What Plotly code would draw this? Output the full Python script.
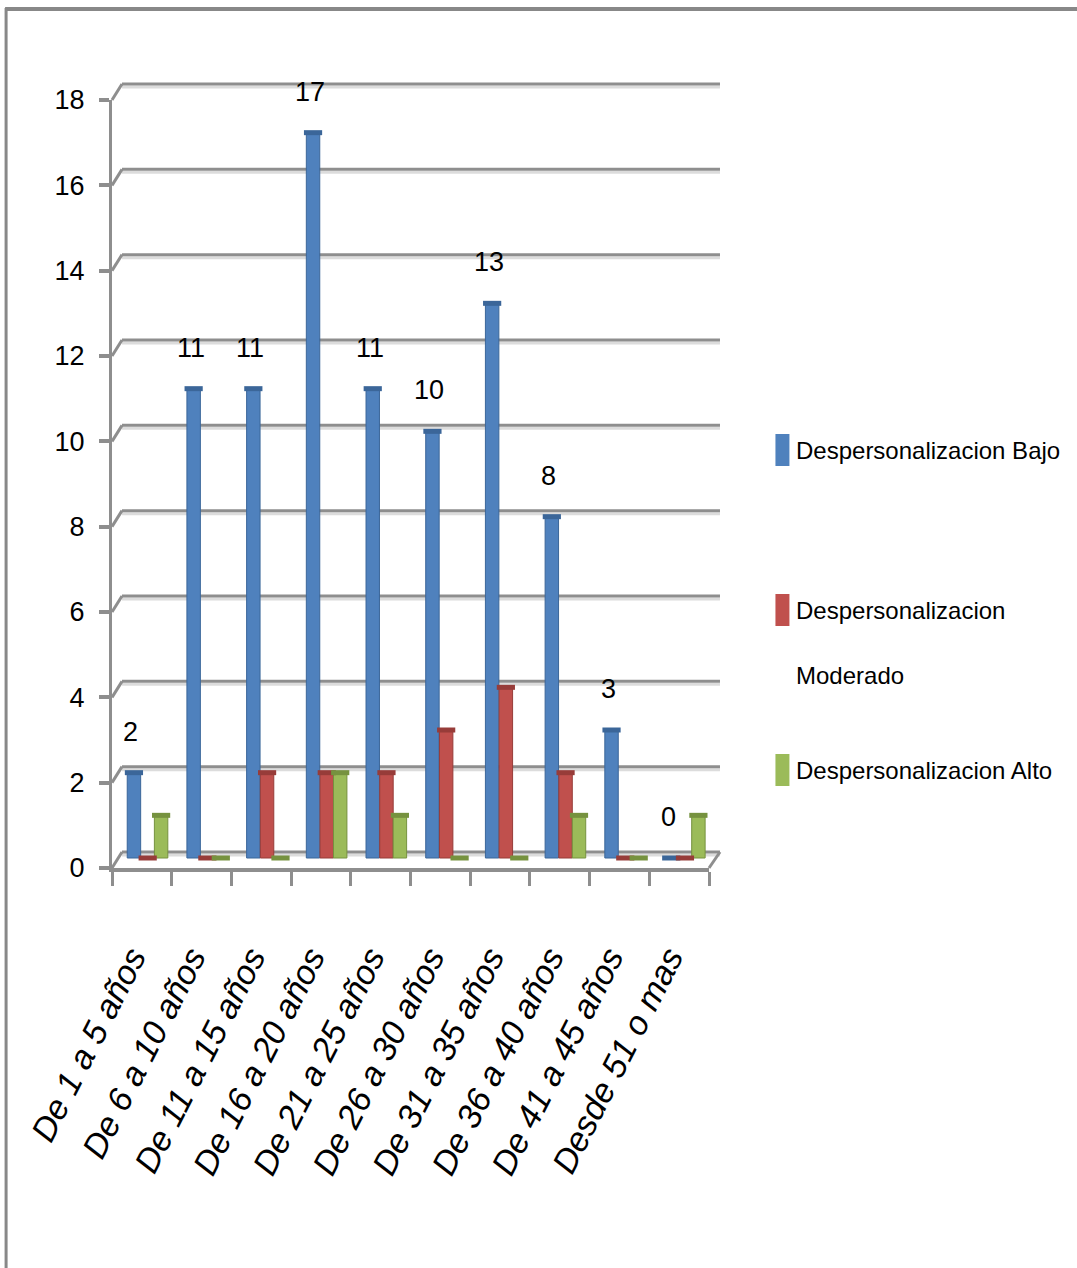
import plotly.graph_objects as go

# ---- data -------------------------------------------------------------
categories = ["De 1 a 5 años", "De 6 a 10 años", "De 11 a 15 años", "De 16 a 20 años",
              "De 21 a 25 años", "De 26 a 30 años", "De 31 a 35 años", "De 36 a 40 años",
              "De 41 a 45 años", "Desde 51 o mas"]
bajo = [2, 11, 11, 17, 11, 10, 13, 8, 3, 0]
moderado = [0, 0, 2, 2, 2, 3, 4, 2, 0, 0]
alto = [1, 0, 0, 2, 1, 0, 0, 1, 0, 1]
series_names = ["Despersonalizacion Bajo", "Despersonalizacion Moderado", "Despersonalizacion Alto"]
y_ticks = [0, 2, 4, 6, 8, 10, 12, 14, 16, 18]

# ---- styling ----------------------------------------------------------
W, H = 1077, 1268
PL, PR, PT, PB = 112, 709.5, 100, 868          # plot area in pixels
UNIT = (PB - PT) / 18.0                        # pixels per unit
DX, DY = 10, 16                                # depth offset of the back wall
LIFT = 10                                      # columns stand mid-depth, a bit above the front edge
SHIFT = LIFT / UNIT                            # same lift in data units
GRID = "#8e8e8e"
SHADOW = "#dcdcdc"
FONT = "Liberation Sans, Arial, sans-serif"

colors = ["#4F81BD", "#C0504D", "#9BBB59"]
edges = ["#3b6699", "#973c39", "#76923f"]
offsets = [-0.245, -0.015, 0.21]
bar_w = 0.225
series = [bajo, moderado, alto]


def px_x(px):
    return (px - PL) / (PR - PL)


def px_y(py):
    return (PB - py) / (PB - PT)


fig = go.Figure()
xs = list(range(len(categories)))
for vals, name, col, edge, off in zip(series, series_names, colors, edges, offsets):
    fig.add_trace(go.Bar(
        x=xs, y=vals, name=name, offset=off, width=bar_w,
        marker=dict(color=col, line=dict(color=edge, width=1)),
        showlegend=False, hoverinfo="skip",
    ))
    # elliptical top caps of the cylinders
    fig.add_trace(go.Scatter(
        x=[i + off + bar_w / 2 for i in xs], y=vals, mode="markers",
        marker=dict(symbol="line-ew", size=13, line=dict(color=edge, width=5)),
        showlegend=False, hoverinfo="skip", cliponaxis=False,
    ))

shapes = []
# back-wall gridlines with the 3D step from the axis
for v in y_ticks:
    yf = PB - v * UNIT
    yb = yf - DY
    shapes.append(dict(type="line", xref="paper", yref="paper",
                       x0=px_x(PL + DX), x1=px_x(PR + DX + 1), y0=px_y(yb + 3), y1=px_y(yb + 3),
                       line=dict(color=SHADOW, width=3), layer="below"))
    shapes.append(dict(type="line", xref="paper", yref="paper",
                       x0=px_x(PL + DX), x1=px_x(PR + DX + 1), y0=px_y(yb), y1=px_y(yb),
                       line=dict(color=GRID, width=3), layer="below"))
    shapes.append(dict(type="line", xref="paper", yref="paper",
                       x0=px_x(PL), x1=px_x(PL + DX), y0=px_y(yf), y1=px_y(yb),
                       line=dict(color=GRID, width=3), layer="below"))
# right edge of the floor
shapes.append(dict(type="line", xref="paper", yref="paper",
                   x0=px_x(PR), x1=px_x(PR + DX + 1), y0=px_y(PB), y1=px_y(PB - DY),
                   line=dict(color=GRID, width=3)))
# chart frame (top and left edges)
shapes.append(dict(type="line", xref="paper", yref="paper",
                   x0=px_x(5), x1=px_x(W + 5), y0=px_y(9), y1=px_y(9),
                   line=dict(color="#888888", width=4)))
shapes.append(dict(type="line", xref="paper", yref="paper",
                   x0=px_x(6), x1=px_x(6), y0=px_y(8), y1=px_y(H + 5),
                   line=dict(color="#888888", width=3)))

annotations = []
# value labels on the "Bajo" series
for i, v in enumerate(bajo):
    annotations.append(dict(x=i + offsets[0] + bar_w / 2 - 0.05, y=v, xref="x", yref="y",
                            text=str(v), showarrow=False, yanchor="bottom", yshift=24,
                            font=dict(family=FONT, size=27, color="black")))

# legend
legend_rows = [[450], [610, 675], [770]]
for name, col, rows in zip(series_names, colors, legend_rows):
    yc = rows[0]
    shapes.append(dict(type="rect", xref="paper", yref="paper",
                       x0=px_x(776), x1=px_x(790), y0=px_y(yc + 16), y1=px_y(yc - 16),
                       fillcolor=col, line=dict(width=0)))
    words = name.split(" ")
    lines = [" ".join(words[:-1]), words[-1]] if len(rows) > 1 else [name]
    for txt, yl in zip(lines, rows):
        annotations.append(dict(x=px_x(795), y=px_y(yl), xref="paper", yref="paper",
                                text=txt, showarrow=False, xanchor="left", yanchor="middle",
                                font=dict(family=FONT, size=24, color="black")))

fig.update_layout(
    width=W, height=H,
    margin=dict(l=PL, r=W - PR, t=PT, b=H - PB, pad=0),
    paper_bgcolor="white", plot_bgcolor="rgba(0,0,0,0)",
    barmode="overlay", showlegend=False,
    shapes=shapes, annotations=annotations,
    xaxis=dict(
        range=[-0.5, 9.5], tickmode="array", tickvals=xs, ticktext=categories,
        ticks="", tickangle=-63, ticklabelstandoff=52, ticklabelshift=-10,
        tickfont=dict(family=FONT, size=34, color="black", style="italic"),
        showline=True, linecolor=GRID, linewidth=4, showgrid=False, zeroline=False,
        minor=dict(tickmode="array", tickvals=[k - 0.5 for k in range(11)],
                   ticks="outside", ticklen=14, tickwidth=3, tickcolor=GRID, showgrid=False),
    ),
    yaxis=dict(
        # value axis; tick marks sit on the front edge, LIFT px below the column scale
        range=[-SHIFT, 18 - SHIFT], tickmode="array",
        tickvals=[v - SHIFT for v in y_ticks], ticktext=[str(v) for v in y_ticks],
        ticks="outside", ticklen=10, tickwidth=4, tickcolor=GRID,
        showline=True, linecolor=GRID, linewidth=3, showgrid=False, zeroline=False,
        tickfont=dict(family=FONT, size=27, color="black"), ticklabelstandoff=9,
    ),
)

fig.write_html("out.html")
